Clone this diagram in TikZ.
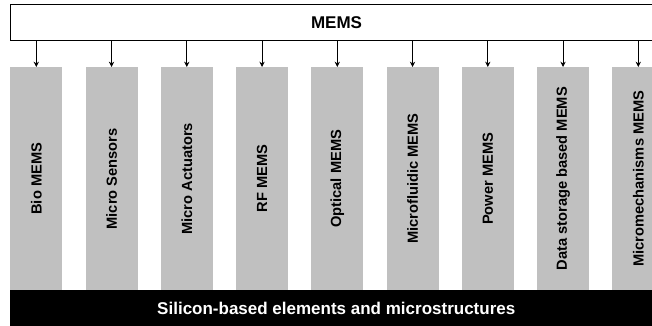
\documentclass[tikz,border=0pt]{standalone}
\usepackage{fontspec}
\setmainfont{Liberation Sans}
\usetikzlibrary{positioning}
\usetikzlibrary{arrows.meta}
\definecolor{colgray}{HTML}{C0C0C0}

\begin{document}
\begin{tikzpicture}[x=0.75pt, y=-0.75pt,
every node/.style = {inner sep=0pt, font=\fontsize{12.75}{15}\selectfont\bfseries},
  column/.style = {fill=colgray, minimum width=39pt, minimum height=167.25pt},
  collabel/.style = {rotate=90, font=\fontsize{11}{13}\selectfont\bfseries},
  link/.style = {-{Stealth[length=4pt, width=4pt]}, line width=0.6pt}
]
\useasboundingbox (0,0) rectangle (652,325);
\clip (0,0) rectangle (652,325);
\node[draw, line width=0.75pt, minimum width=489pt, minimum height=27pt, anchor=north west] (mems) at (10,4) {MEMS};
\node[fill=black, text=white, minimum width=489pt, minimum height=27pt, anchor=north west] (base) at (10,290) {Silicon-based elements and microstructures};
\foreach \lbl [count=\i] in {Bio MEMS, Micro Sensors, Micro Actuators, RF MEMS, Optical MEMS,
    Microfluidic MEMS, Power MEMS, Data storage based MEMS, Micromechanisms MEMS} {
  \node[column, anchor=north west] (col\i) at ({10+75.25*(\i-1)}, 67) {};
  \node[collabel] (lbl\i) at (col\i.center) {\lbl};
  \draw[link] (mems.south -| col\i.north) -- (col\i.north);
}
\end{tikzpicture}
\end{document}
